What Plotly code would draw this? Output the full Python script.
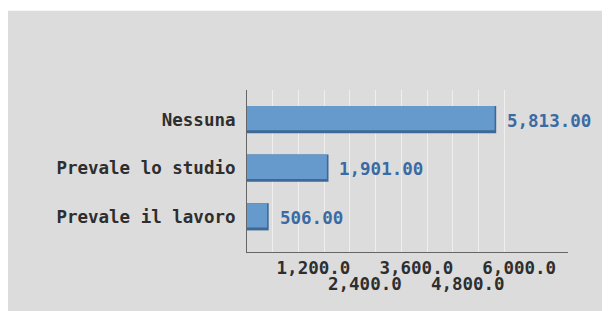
import plotly.graph_objects as go

categories = ["Prevale il lavoro", "Prevale lo studio", "Nessuna"]
values = [506, 1901, 5813]
value_labels = ["506.00", "1,901.00", "5,813.00"]

grid_vals = [600, 1200, 1800, 2400, 3000, 3600, 4200, 4800, 5400, 6000]
row1_vals = [1200, 3600, 6000]
row1_text = ["1,200.0", "3,600.0", "6,000.0"]
row2_vals = [2400, 4800]
row2_text = ["2,400.0", "4,800.0"]

FONT = "DejaVu Sans Mono"
FS = 17.5
BG = "#dcdcdc"
BAR = "#6699cc"
SHADOW = "#3d6897"
TXT = "#2e2e2e"
BLUE = "#3a6aa3"

# page has an 8px body margin; figure coordinates are screen - 8
W, H = 610, 311
OFF = 8
L, T = 247.3 - OFF, 90 - OFF
RIGHT, BOTTOM = 568 - OFF, 251.7 - OFF
R, B = W - RIGHT, H - BOTTOM
XMAX = 7488

fig = go.Figure()
fig.add_trace(go.Bar(x=values, y=categories, orientation="h", width=0.56,
                     marker=dict(color=SHADOW, line=dict(width=0)),
                     hoverinfo="skip", showlegend=False))
shadow_dx = 1.6 * XMAX / (RIGHT - L)
fig.add_trace(go.Bar(x=[v - shadow_dx for v in values], y=categories, orientation="h",
                     width=0.50, offset=-0.22,
                     marker=dict(color=BAR, line=dict(width=0)),
                     showlegend=False))
fig.add_trace(go.Scatter(x=[0], y=[categories[0]], xaxis="x2", mode="markers",
                         marker=dict(opacity=0), hoverinfo="skip", showlegend=False))

for v, lab, c in zip(values, value_labels, categories):
    fig.add_annotation(x=v, y=c, text=lab, showarrow=False, xanchor="left",
                       xshift=9, yshift=-1, font=dict(family=FONT, size=FS, color=BLUE, weight="bold"))

px_w = RIGHT - L
px_h = BOTTOM - T
fig.add_shape(type="rect", xref="paper", yref="paper", layer="below",
              x0=(7 - OFF - L) / px_w, x1=(W - L) / px_w,
              y0=-(H - BOTTOM) / px_h, y1=(BOTTOM - (11 - OFF)) / px_h,
              fillcolor=BG, line=dict(width=0))

fig.update_layout(
    width=W, height=H, barmode="overlay",
    margin=dict(l=L, r=R, t=T, b=B, pad=0),
    paper_bgcolor="white", plot_bgcolor="rgba(0,0,0,0)",
    font=dict(family=FONT, size=FS, color=TXT, weight="bold"),
    xaxis=dict(range=[0, XMAX], tickmode="array", tickvals=grid_vals,
               ticktext=[row1_text[row1_vals.index(v)] if v in row1_vals else "" for v in grid_vals],
               showgrid=True, gridcolor="#efefef", gridwidth=1,
               showline=True, linecolor="#666666", linewidth=1,
               zeroline=False, ticks="", ticklabelshift=15, ticklabelstandoff=0,
               fixedrange=True),
    xaxis2=dict(range=[0, XMAX], overlaying="x", side="bottom", anchor="y",
                tickmode="array", tickvals=row2_vals, ticktext=row2_text,
                showgrid=False, showline=False, zeroline=False, ticks="",
                ticklabelshift=15, ticklabelstandoff=19),
    yaxis=dict(type="category", categoryarray=categories, range=[-0.724, 2.608],
               showgrid=False, showline=True, linecolor="#666666", linewidth=1,
               ticks="", ticklabelstandoff=7, zeroline=False),
)

fig.write_html("out.html")
